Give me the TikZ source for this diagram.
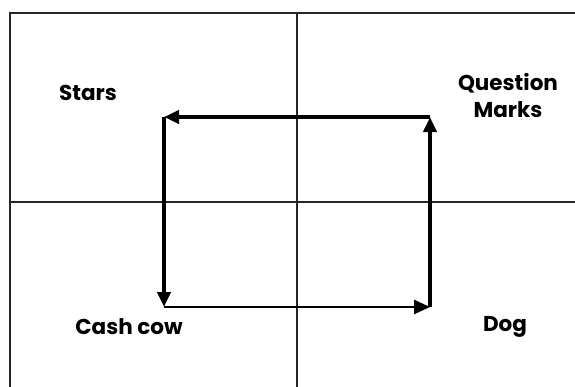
\documentclass[tikz,border=0pt]{standalone}
\usepackage{fontspec}
\setmainfont{Poppins}
\usetikzlibrary{arrows.meta}
\begin{document}
\begin{tikzpicture}[x=1pt,y=-1pt,
  gridline/.style={line width=2pt, draw=black!85},
  flowthick/.style={line width=3.8pt, -{Triangle[length=15pt,width=13pt]}},
  flowthin/.style={line width=2.6pt, -{Triangle[length=16pt,width=14pt]}},
  quadlabel/.style={font=\bfseries\fontsize{21.5}{27}\selectfont, align=center, inner sep=0pt}]
\useasboundingbox (0,0) rectangle (575,386);
\fill[white] (0,0) rectangle (575,386);
% frame (cropped at right and bottom)
\coordinate (fbl) at (10,390);
\coordinate (ftl) at (10,13);
\coordinate (ftr) at (580,13);
\draw[gridline] (fbl) -- (ftl) -- (ftr);
% quadrant dividers
\coordinate (vt) at (297,13);
\coordinate (vb) at (297,390);
\coordinate (hl) at (10,202);
\coordinate (hr) at (580,202);
\draw[gridline] (vt) -- (vb);
\draw[gridline] (hl) -- (hr);
% labels
\node[quadlabel] (stars) at (88,93) {Stars};
\node[quadlabel] (qm) at (508,95) {Question\\Marks};
\node[quadlabel] (cash) at (129,327) {Cash cow};
\node[quadlabel] (dog) at (505,327) {Dog};
% cycle corners
\coordinate (ctl) at (164,117);
\coordinate (ctr) at (430,117);
\coordinate (cbr) at (430,307);
\coordinate (cbl) at (164,307);
\draw[flowthin] (cbl) -- (cbr);
\draw[flowthick] (cbr) -- (ctr);
\draw[flowthick] (ctr) -- (ctl);
\draw[flowthick] (ctl) -- (cbl);
\end{tikzpicture}
\end{document}
